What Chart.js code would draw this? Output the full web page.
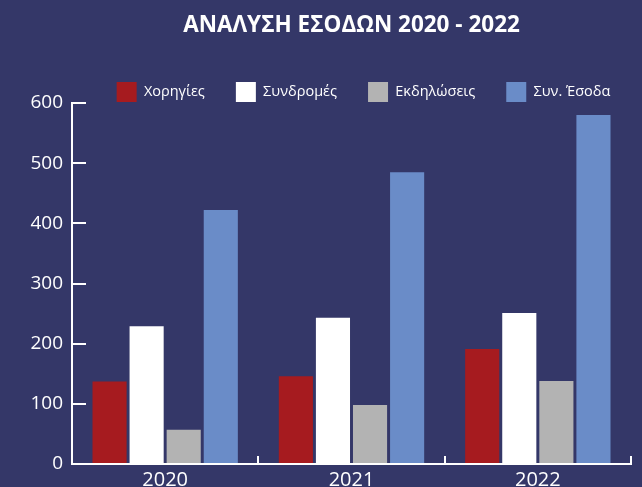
<!DOCTYPE html>
<html>
<head>
<meta charset="utf-8">
<script src="https://cdn.jsdelivr.net/npm/chart.js@4/dist/chart.umd.min.js"></script>
<style>
  html, body { margin: 0; padding: 0; background: #343768; }
  #wrap { width: 642px; height: 487px; }
</style>
</head>
<body>
<div id="wrap"><canvas id="c" width="642" height="487"></canvas></div>
<script>
const titleText = 'ΑΝΑΛΥΣΗ ΕΣΟΔΩΝ 2020 - 2022';
const categories = ['2020', '2021', '2022'];
const seriesNames = ['Χορηγίες', 'Συνδρομές', 'Εκδηλώσεις', 'Συν. Έσοδα'];
const sponsorships = [137, 146, 191];
const subscriptions = [229, 243, 251];
const events = [57, 98, 138];
const totalIncome = [422, 485, 580];
const yTicks = [0, 100, 200, 300, 400, 500, 600];
const colors = ['#a61b1f', '#ffffff', '#b3b3b3', '#6a8cc8'];

const seriesValues = [sponsorships, subscriptions, events, totalIncome];
const FONT = '"Open Sans", "Noto Sans", sans-serif';

// nudge the legend row horizontally to match the reference placement
const legendShift = {
  id: 'legendShift',
  afterLayout(chart) {
    const lg = chart.legend;
    if (lg) { lg.left += 48; lg.right += 48; }
  }
};

new Chart(document.getElementById('c'), {
  type: 'bar',
  data: {
    labels: categories,
    datasets: seriesNames.map((n, i) => ({
      label: n,
      data: seriesValues[i],
      backgroundColor: colors[i],
      borderWidth: 0,
      categoryPercentage: 0.796,
      barPercentage: 0.92
    }))
  },
  plugins: [legendShift],
  options: {
    responsive: false,
    animation: false,
    layout: { padding: { left: 0, right: 11, top: 0, bottom: 0 } },
    plugins: {
      tooltip: { enabled: false },
      title: {
        display: true,
        text: titleText,
        color: '#ffffff',
        fullSize: false,
        font: { family: FONT, size: 22.5, weight: 'bold' },
        padding: { top: 12, bottom: 12 }
      },
      legend: {
        display: true,
        fullSize: true,
        maxHeight: 52,
        labels: {
          color: '#ffffff',
          boxWidth: 20,
          boxHeight: 20,
          padding: 31,
          font: { family: FONT, size: 14.5 }
        }
      }
    },
    scales: {
      x: {
        offset: true,
        grid: {
          offset: true,
          drawOnChartArea: false,
          drawTicks: true,
          tickLength: -8,
          color: '#ffffff',
          lineWidth: 2
        },
        border: { display: true, color: '#ffffff', width: 2 },
        ticks: { color: '#ffffff', font: { family: FONT, size: 20 }, padding: 12 },
        afterFit: s => { s.height = 23; }
      },
      y: {
        min: 0,
        max: 600,
        afterBuildTicks: s => { s.ticks = yTicks.map(v => ({ value: v })); },
        grid: {
          drawOnChartArea: false,
          drawTicks: true,
          tickLength: -14,
          color: '#ffffff',
          lineWidth: 2
        },
        border: { display: true, color: '#ffffff', width: 2 },
        ticks: { color: '#ffffff', font: { family: FONT, size: 19 }, padding: 23 },
        afterFit: s => { s.width = 72; s.paddingTop = 0; s.paddingBottom = 0; }
      }
    }
  }
});
</script>
</body>
</html>
